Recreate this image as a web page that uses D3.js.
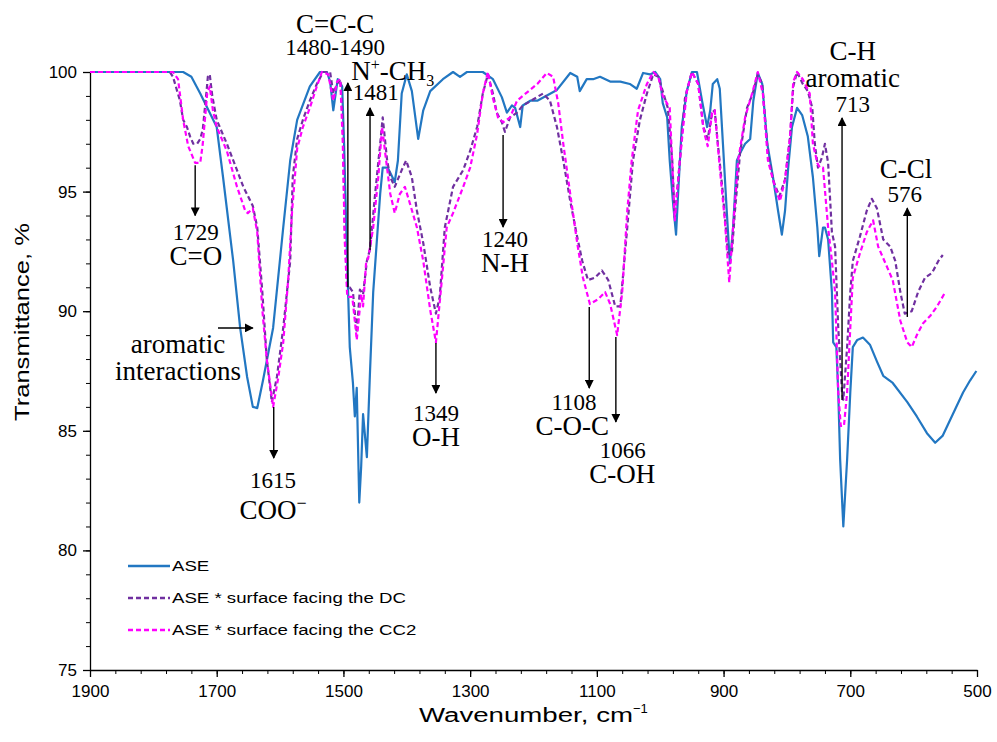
<!DOCTYPE html>
<html>
<head>
<meta charset="utf-8">
<script src="https://d3js.org/d3.v7.min.js"></script>
<style>
  body { margin: 0; background: #fff; }
  .tick text { font-family: "Liberation Sans", Arial, sans-serif; }
  .ann { font-family: "Liberation Serif", "Times New Roman", serif; fill: #000; }
</style>
</head>
<body>
<div id="chart"></div>
<script>
// ASE (solid blue)
const aseWn = [1900, 1753, 1740, 1726, 1700, 1690, 1674, 1663, 1652, 1643, 1636, 1627, 1611, 1595, 1584, 1573, 1553, 1537, 1526, 1521, 1516, 1509, 1502, 1499, 1494, 1490, 1485, 1482, 1479, 1475, 1472, 1469, 1463, 1458, 1453, 1442, 1438, 1430, 1419, 1414, 1408, 1400, 1392, 1382, 1374, 1363, 1343, 1327, 1316, 1305, 1280, 1264, 1250, 1242, 1234, 1229, 1221, 1217, 1205, 1194, 1163, 1142, 1131, 1127, 1116, 1106, 1095, 1079, 1063, 1048, 1037, 1027, 1016, 1008, 1000, 996, 989, 985, 980, 975, 972, 966, 958, 950, 942, 934, 926, 921, 917, 910, 906, 901, 895, 890, 885, 879, 874, 866, 858, 853, 846, 839, 831, 822, 814, 808, 803, 798, 792, 784, 776, 767, 759, 752, 749, 743, 740, 735, 729, 727, 722, 719, 716, 711, 705, 700, 696, 689, 680, 669, 658, 648, 633, 610, 595, 579, 566, 554, 538, 522, 511, 501];
const aseT = [100, 100, 99.8, 99.1, 97.7, 95.6, 92.1, 89.3, 87.25, 86.0, 85.95, 87.1, 89.3, 93.5, 96.3, 98.0, 99.4, 100, 100, 99.6, 98.4, 99.7, 99.4, 97, 92, 88.5, 87.0, 85.6, 86.8, 82.0, 83.5, 85.7, 83.9, 87.5, 90.8, 94.9, 96.0, 96.0, 95.4, 96.3, 99.1, 99.9, 99.2, 97.2, 98.4, 99.2, 99.7, 100, 99.8, 100, 100, 99.7, 98.95, 98.3, 98.6, 98.5, 97.7, 98.6, 98.8, 98.8, 99.25, 99.96, 99.8, 99.2, 99.7, 99.7, 99.8, 99.6, 99.6, 99.5, 99.3, 99.96, 99.9, 100, 99.7, 98.7, 98.1, 96.3, 94.6, 93.2, 94.8, 97.7, 99.2, 100, 100, 98.8, 97.7, 98.4, 99.5, 99.7, 99.3, 97.0, 94.2, 92.0, 93.5, 96.3, 96.6, 97.0, 97.2, 98.8, 99.96, 99.5, 97.0, 95.6, 94.2, 93.2, 94.2, 96.0, 97.7, 98.5, 98.2, 97.3, 95.6, 93.5, 92.3, 93.5, 93.5, 93.0, 90.8, 88.7, 88.5, 86.6, 83.8, 81.0, 83.8, 86.6, 88.5, 88.8, 88.9, 88.6, 87.9, 87.3, 87.0, 86.2, 85.6, 84.9, 84.5, 84.8, 85.7, 86.6, 87.1, 87.5];

// ASE * surface facing the DC (purple dashed)
const dcWn = [1900, 1774, 1769, 1758, 1753, 1747, 1742, 1737, 1731, 1726, 1722, 1716, 1714, 1711, 1707, 1700, 1684, 1668, 1658, 1643, 1636, 1628, 1621, 1613, 1605, 1595, 1584, 1580, 1573, 1564, 1553, 1542, 1532, 1521, 1516, 1510, 1505, 1501, 1498, 1494, 1490, 1485, 1479, 1474, 1469, 1463, 1458, 1450, 1442, 1438, 1431, 1426, 1419, 1408, 1401, 1392, 1384, 1374, 1363, 1354, 1348, 1340, 1327, 1311, 1300, 1289, 1280, 1272, 1264, 1258, 1250, 1245, 1237, 1226, 1217, 1210, 1185, 1174, 1163, 1153, 1142, 1131, 1123, 1114, 1103, 1092, 1082, 1071, 1063, 1052, 1043, 1032, 1021, 1011, 1003, 996, 988, 981, 977, 969, 961, 950, 940, 932, 925, 918, 914, 909, 901, 893, 887, 882, 874, 863, 854, 846, 839, 830, 822, 812, 803, 795, 790, 784, 775, 767, 760, 756, 751, 745, 740, 735, 729, 724, 719, 713, 711, 705, 700, 696, 685, 674, 666, 658, 648, 637, 629, 621, 614, 603, 593, 582, 571, 561, 554];
const dcT = [100, 100, 99.8, 98.8, 98.0, 97.7, 97.3, 97.0, 97.0, 97.2, 97.6, 99.2, 99.8, 99.9, 99.0, 98.0, 97.0, 95.9, 95.2, 94.4, 93.5, 90.8, 88.0, 86.2, 87.25, 89.3, 92.1, 95.6, 97.2, 98.0, 98.8, 99.5, 100, 100, 99.1, 99.5, 99.7, 98, 93.5, 91.0, 91.0, 90.8, 89.1, 90.9, 90.7, 92.1, 92.6, 94.9, 97.0, 98.1, 96.3, 95.6, 95.2, 95.9, 96.3, 95.6, 94.2, 92.85, 91.0, 89.9, 90.6, 93.5, 95.2, 95.9, 96.7, 97.7, 99.1, 99.9, 99.1, 98.3, 97.9, 97.5, 98.1, 98.3, 98.6, 98.7, 99.1, 98.8, 97.7, 96.3, 94.6, 93.1, 92.1, 91.3, 91.4, 91.7, 91.3, 90.2, 90.2, 93.5, 96.3, 98.0, 99.1, 99.9, 99.8, 99.2, 98.5, 96.3, 93.9, 96.3, 98.9, 100, 99.5, 97.7, 97.2, 98.3, 98.4, 97.0, 94.9, 92.4, 92.4, 94.2, 96.6, 98.5, 99.1, 99.9, 99.5, 96.6, 95.5, 94.8, 95.5, 97.3, 99.4, 100, 99.5, 99.2, 98.5, 97.0, 96.0, 96.4, 97.0, 96.2, 93.3, 92.7, 89.3, 86.6, 86.3, 88.5, 90.8, 92.1, 93.1, 94.2, 94.7, 94.3, 93.0, 92.7, 92.1, 90.8, 89.9, 90.0, 90.8, 91.4, 91.6, 92.1, 92.35];

// ASE * surface facing the CC2 (magenta dashed)
const cc2Wn = [1900, 1769, 1761, 1753, 1745, 1734, 1726, 1722, 1715, 1711, 1706, 1700, 1684, 1668, 1655, 1651, 1643, 1636, 1628, 1621, 1611, 1603, 1595, 1587, 1581, 1573, 1564, 1553, 1542, 1534, 1524, 1516, 1510, 1505, 1501, 1498, 1494, 1486, 1482, 1479, 1472, 1469, 1464, 1461, 1453, 1445, 1439, 1434, 1426, 1419, 1411, 1403, 1395, 1384, 1374, 1363, 1354, 1344, 1337, 1327, 1311, 1300, 1289, 1280, 1272, 1264, 1256, 1248, 1237, 1226, 1217, 1194, 1179, 1169, 1161, 1153, 1142, 1131, 1122, 1111, 1098, 1087, 1079, 1068, 1060, 1052, 1045, 1035, 1021, 1011, 1003, 996, 985, 977, 969, 958, 950, 940, 932, 929, 925, 918, 914, 906, 898, 891, 885, 877, 866, 855, 846, 838, 830, 819, 811, 803, 795, 790, 784, 775, 764, 759, 752, 748, 743, 735, 729, 724, 719, 715, 710, 705, 700, 696, 685, 674, 664, 656, 642, 633, 621, 610, 603, 595, 585, 574, 563, 550];
const cc2T = [100, 100, 99.7, 98.0, 96.9, 96.2, 96.2, 97.0, 99.1, 99.4, 98.4, 97.7, 96.7, 95.2, 94.2, 94.1, 94.3, 93.3, 90.05, 88.0, 86.0, 87.2, 88.7, 91.4, 94.2, 96.8, 97.7, 98.5, 99.4, 100, 99.9, 98.8, 99.6, 99.7, 97, 93, 90.6, 90.6, 89.6, 88.8, 90.7, 90.2, 92.1, 92.2, 93.5, 95.6, 97.7, 96.6, 94.9, 94.1, 94.9, 95.2, 94.5, 93.5, 92.1, 90.05, 88.7, 91.5, 93.5, 94.1, 95.2, 96.0, 97.4, 99.1, 100, 98.9, 98.1, 97.9, 98.1, 98.8, 99.0, 99.5, 99.96, 99.8, 98.7, 97.0, 94.9, 92.85, 91.4, 90.3, 90.5, 90.8, 90.3, 89.0, 90.8, 94.2, 96.3, 98.4, 99.5, 100, 99.8, 99.0, 98.5, 93.8, 96.3, 99.2, 100, 99.5, 97.7, 97.3, 96.9, 98.3, 98.4, 96.0, 93.8, 91.2, 93.5, 96.3, 98.1, 99.1, 100, 99.1, 96.3, 95.2, 94.6, 95.5, 97.3, 99.6, 100, 99.7, 99.1, 97.0, 96.2, 96.0, 96.0, 93.5, 92.1, 90.8, 86.6, 85.2, 85.2, 86.6, 89.3, 91.4, 92.4, 93.3, 93.8, 92.7, 91.85, 91.3, 89.6, 88.7, 88.5, 89.0, 89.5, 89.8, 90.2, 90.8];

const seriesNames = ["ASE", "ASE * surface facing the DC", "ASE * surface facing the CC2"];
const xTicks = [1900, 1700, 1500, 1300, 1100, 900, 700, 500];
const yTicks = [75, 80, 85, 90, 95, 100];

// band annotations: arrow [wavenumber, from T, to T], text lines [text, kind, wavenumber, T]
const annotations = [
  { arrow: [1493, 91.0, 99.54], lines: [["C=C-C", "lab", 1513, 101.63], ["1480-1490", "num", 1513, 100.71]] },
  { arrow: [1458, 92.56, 98.5], lines: [["N+-CH3", "lab", 1422, 99.67], ["1481", "num", 1449, 98.83]] },
  { arrow: [1734, 96.1, 94.0], lines: [["1729", "num", 1733, 92.98], ["C=O", "lab", 1733, 91.93]] },
  { arrow: [1610, 86.0, 83.86], lines: [["1615", "num", 1611, 82.61], ["COO-", "lab", 1611, 81.31]] },
  { arrow: [1354, 88.67, 86.58], lines: [["1349", "num", 1354, 85.41], ["O-H", "lab", 1354, 84.36]] },
  { arrow: [1248, 97.37, 93.52], lines: [["1240", "num", 1245, 92.68], ["N-H", "lab", 1245, 91.64]] },
  { arrow: [1112, 90.18, 86.79], lines: [["1108", "num", 1136, 85.87], ["C-O-C", "lab", 1139, 84.82]] },
  { arrow: [1070, 88.92, 85.37], lines: [["1066", "num", 1059, 83.86], ["C-OH", "lab", 1060, 82.82]] },
  { arrow: [713, 86.29, 98.08], lines: [["C-H", "lab", 696, 100.5], ["aromatic", "lab", 696, 99.37], ["713", "num", 696, 98.33]] },
  { arrow: [610, 89.76, 94.31], lines: [["C-Cl", "lab", 612, 95.57], ["576", "num", 614, 94.57]] }
];
// horizontal arrow: [from wn, to wn, T]
const sideArrow = [1698, 1643, 89.3];
const sideText = [["aromatic", 1761, 88.25], ["interactions", 1761, 87.12]];

const width = 997, height = 742;
const margin = { top: 72, right: 20, bottom: 72, left: 90 };

const svg = d3.select("#chart").append("svg")
  .attr("width", width).attr("height", height);

const x = d3.scaleLinear().domain([1900, 500]).range([margin.left, width - margin.right]);
const y = d3.scaleLinear().domain([75, 100]).range([height - margin.bottom, margin.top]);

// axes
const xMinor = d3.range(1900, 499, -40);
const yMinor = d3.range(75, 100.1, 1);

svg.append("g")
  .attr("transform", `translate(0,${y(75)})`)
  .call(d3.axisBottom(x).tickValues(xMinor).tickSize(4).tickFormat(""))
  .call(g => g.select(".domain").remove());
svg.append("g")
  .attr("transform", `translate(0,${y(75)})`)
  .call(d3.axisBottom(x).tickValues(xTicks).tickSize(7).tickSizeOuter(0).tickPadding(8).tickFormat(d3.format("d")))
  .call(g => g.selectAll("text").attr("font-size", 17).attr("fill", "#000"))
  .call(g => g.selectAll("line, path").attr("stroke", "#000").attr("stroke-width", 1.3));

svg.append("g")
  .attr("transform", `translate(${x(1900)},0)`)
  .call(d3.axisLeft(y).tickValues(yMinor).tickSize(4).tickFormat(""))
  .call(g => g.select(".domain").remove());
svg.append("g")
  .attr("transform", `translate(${x(1900)},0)`)
  .call(d3.axisLeft(y).tickValues(yTicks).tickSize(7).tickSizeOuter(0).tickPadding(6))
  .call(g => g.selectAll("text").attr("font-size", 17).attr("fill", "#000"))
  .call(g => g.selectAll("line, path").attr("stroke", "#000").attr("stroke-width", 1.3));

// axis titles (the source text is drawn wide)
const xTitle = svg.append("text")
  .attr("x", 419).attr("y", 722)
  .attr("font-family", "Liberation Sans, Arial, sans-serif")
  .attr("font-size", 20);
xTitle.append("tspan").text("Wavenumber, cm")
  .attr("textLength", 214).attr("lengthAdjust", "spacingAndGlyphs");
xTitle.append("tspan").attr("font-size", 13).attr("dy", -9).text("−1");

svg.append("text")
  .attr("transform", "translate(29,322) rotate(-90)")
  .attr("text-anchor", "middle")
  .attr("font-family", "Liberation Sans, Arial, sans-serif")
  .attr("font-size", 20)
  .attr("textLength", 198).attr("lengthAdjust", "spacingAndGlyphs")
  .text("Transmittance, %");

// curves
const line = d3.line().x(d => x(d[0])).y(d => y(d[1]));
const series = [
  { wn: aseWn, t: aseT, color: "#2277c2", dash: null },
  { wn: dcWn, t: dcT, color: "#7030a0", dash: "5,3" },
  { wn: cc2Wn, t: cc2T, color: "#ff00ff", dash: "5,3" }
];
series.forEach(s => {
  svg.append("path")
    .datum(d3.zip(s.wn, s.t))
    .attr("fill", "none")
    .attr("stroke", s.color)
    .attr("stroke-width", 2.2)
    .attr("stroke-linejoin", "round")
    .attr("stroke-dasharray", s.dash)
    .attr("d", line);
});

// legend
const legend = svg.append("g");
series.forEach((s, i) => {
  const ly = 566 + i * 32;
  legend.append("line")
    .attr("x1", 128).attr("x2", 170).attr("y1", ly).attr("y2", ly)
    .attr("stroke", s.color).attr("stroke-width", 2.4)
    .attr("stroke-dasharray", s.dash);
  const t = legend.append("text")
    .attr("x", 172).attr("y", ly + 5)
    .attr("font-family", "Liberation Sans, Arial, sans-serif")
    .attr("font-size", 14)
    .text(seriesNames[i]);
  const w = t.node().getComputedTextLength();
  t.attr("textLength", w * 1.33).attr("lengthAdjust", "spacingAndGlyphs");
});

// annotations
const defs = svg.append("defs");
defs.append("marker")
  .attr("id", "head").attr("viewBox", "0 0 10 10")
  .attr("refX", 9).attr("refY", 5)
  .attr("markerWidth", 9).attr("markerHeight", 9)
  .attr("markerUnits", "userSpaceOnUse")
  .attr("orient", "auto")
  .append("path").attr("d", "M0,0 L10,5 L0,10 z").attr("fill", "#000");

function addText(g, str, kind, wn, t) {
  const el = g.append("text")
    .attr("class", "ann")
    .attr("x", x(wn)).attr("y", y(t))
    .attr("text-anchor", "middle")
    .attr("font-size", kind === "num" ? 23 : 27);
  if (str === "N+-CH3") {
    el.append("tspan").text("N");
    el.append("tspan").attr("font-size", 16).attr("dy", -10).text("+");
    el.append("tspan").attr("dy", 10).text("-CH");
    el.append("tspan").attr("font-size", 16).attr("dy", 6).text("3");
  } else if (str === "COO-") {
    el.append("tspan").text("COO");
    el.append("tspan").attr("font-size", 18).attr("dy", -10).text("−");
  } else {
    el.text(str);
  }
}

const ann = svg.append("g");
annotations.forEach(a => {
  ann.append("line")
    .attr("x1", x(a.arrow[0])).attr("x2", x(a.arrow[0]))
    .attr("y1", y(a.arrow[1])).attr("y2", y(a.arrow[2]))
    .attr("stroke", "#000").attr("stroke-width", 1.4)
    .attr("marker-end", "url(#head)");
  a.lines.forEach(l => addText(ann, l[0], l[1], l[2], l[3]));
});
ann.append("line")
  .attr("x1", x(sideArrow[0])).attr("x2", x(sideArrow[1]))
  .attr("y1", y(sideArrow[2])).attr("y2", y(sideArrow[2]))
  .attr("stroke", "#000").attr("stroke-width", 1.4)
  .attr("marker-end", "url(#head)");
sideText.forEach(l => addText(ann, l[0], "lab", l[1], l[2]));
</script>
</body>
</html>
